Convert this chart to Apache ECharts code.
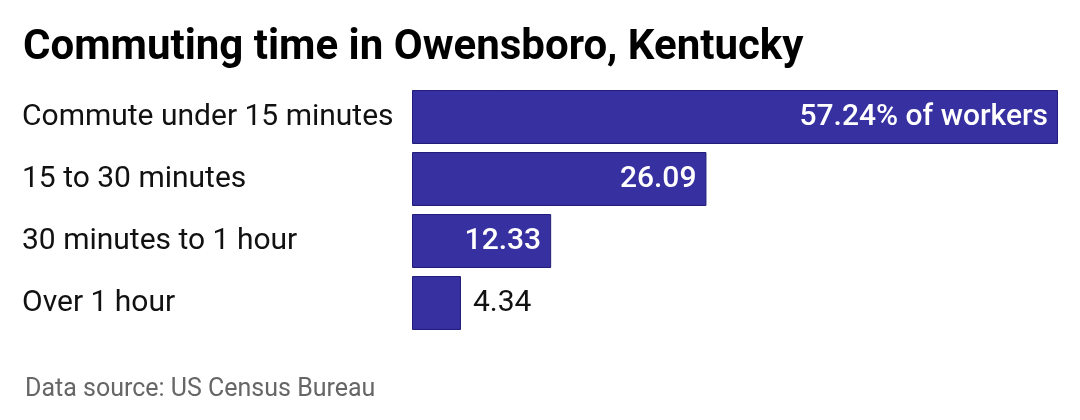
<!DOCTYPE html>
<html><head><meta charset="utf-8">
<script src="https://cdn.jsdelivr.net/npm/echarts@6/dist/echarts.min.js"></script>
<style>body{margin:0;background:#fff}#c{width:1080px;height:420px}</style>
</head><body><div id="c"></div>
<script>
const categories = ["Commute under 15 minutes","15 to 30 minutes","30 minutes to 1 hour","Over 1 hour"];
const values = [57.24, 26.09, 12.33, 4.34];
const valueLabels = ["57.24% of workers","26.09","12.33","4.34"];
const chart = echarts.init(document.getElementById('c'));
chart.setOption({
  animation:false,
  textStyle:{fontFamily:'Roboto'},
  title:[
    {text:'Commuting time in Owensboro, Kentucky',left:18,top:22,textStyle:{fontFamily:'Roboto',fontSize:42,fontWeight:'bold',color:'#000'}},
    {text:'Data source: US Census Bureau',left:20,top:372,textStyle:{fontFamily:'Roboto',fontSize:25,fontWeight:'normal',color:'#666'}}
  ],
  grid:{left:412,right:22,top:86,height:248},
  xAxis:{type:'value',min:0,max:57.24,show:false},
  yAxis:{type:'category',data:categories,inverse:true,axisLine:{show:false},axisTick:{show:false},
    axisLabel:{align:'left',margin:390,fontSize:30,color:'#111',fontFamily:'Roboto'}},
  series:[{type:'bar',barCategoryGap:'13%',
    data:values.map((v,i)=>{
      const inside = v>10;
      return {value:v,label:{show:true,position:inside?'insideRight':'right',distance:inside?10:12,
        color:inside?'#fff':'#111',fontSize:30,fontWeight:inside?500:'normal',fontFamily:'Roboto',formatter:()=>valueLabels[i]}};
    }),
    itemStyle:{color:'#3630a0',borderColor:'#221c7a',borderWidth:1}
  }]
});
</script></body></html>
